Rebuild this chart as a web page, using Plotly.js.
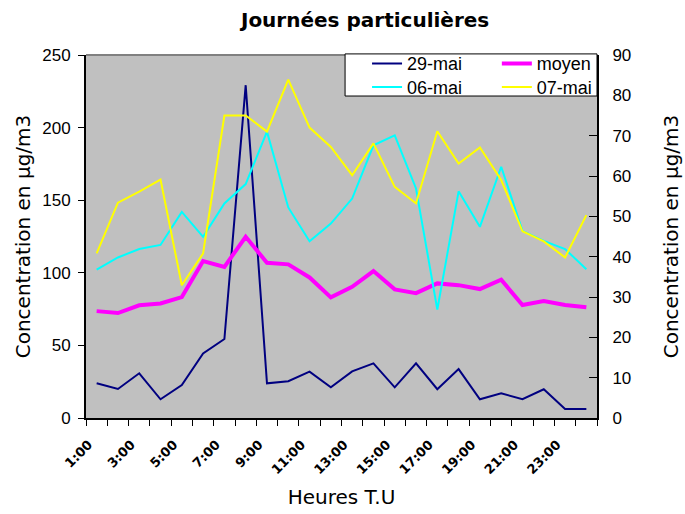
<!DOCTYPE html>
<html>
<head>
<meta charset="utf-8">
<script src="https://cdn.plot.ly/plotly-3.0.1.min.js"></script>
<style>html,body{margin:0;padding:0;background:#fff;}#chart{width:685px;height:514px;}</style>
</head>
<body>
<div id="chart"></div>
<script>
// Categories: hours (T.U)
var hours = ["1:00","2:00","3:00","4:00","5:00","6:00","7:00","8:00","9:00","10:00","11:00","12:00",
             "13:00","14:00","15:00","16:00","17:00","18:00","19:00","20:00","21:00","22:00","23:00","24:00"];
// Series on the left axis (µg/m3, 0-250)
var mai29 = [23.9,20.0,30.8,12.9,22.7,44.5,54.4,229.2,23.9,25.3,31.9,21.1,32.1,37.6,21.1,37.6,19.8,33.7,12.9,17.0,12.9,19.8,6.2,6.2];
var moyen = [73.6,72.3,77.6,78.9,83.3,108.1,104.1,124.8,106.9,105.8,96.8,83.1,90.4,101.2,88.6,86.0,92.7,91.5,88.8,95.2,77.8,80.5,77.8,76.2];
// Series on the right axis (µg/m3, 0-90)
var mai06 = [36.8,39.8,41.9,42.9,51.1,44.9,53.2,58.0,71.0,52.2,43.8,48.2,54.4,67.6,70.1,56.9,26.9,56.2,47.4,62.3,46.4,43.9,41.9,36.9];
var mai07 = [40.8,53.4,56.1,59.1,32.9,40.8,75.0,75.0,71.0,83.9,72.0,67.2,60.2,68.1,57.3,53.2,71.1,63.1,67.1,59.0,46.3,43.8,39.8,50.3];
// Tick labels shown (every other hour)
var labelHours = ["1:00","3:00","5:00","7:00","9:00","11:00","13:00","15:00","17:00","19:00","21:00","23:00"];

var idx = hours.map(function(h, i){ return i; });
var labelIdx = labelHours.map(function(h){ return hours.indexOf(h); });

var traces = [
  {x: idx, y: mai29, name: "29-mai", type: "scatter", mode: "lines", yaxis: "y",
   line: {color: "#000080", width: 2}, legend: "legend"},
  {x: idx, y: moyen, name: "moyen", type: "scatter", mode: "lines", yaxis: "y",
   line: {color: "#FF00FF", width: 4}, legend: "legend2"},
  {x: idx, y: mai06, name: "06-mai", type: "scatter", mode: "lines", yaxis: "y2",
   line: {color: "#00FFFF", width: 2}, legend: "legend3"},
  {x: idx, y: mai07, name: "07-mai", type: "scatter", mode: "lines", yaxis: "y2",
   line: {color: "#FFFF00", width: 2}, legend: "legend4"}
];

var axisTitleFont = {family: "DejaVu Sans", size: 20, color: "#000"};
var tickFont = {family: "Liberation Sans", size: 17, color: "#000"};
var legendFont = {family: "Liberation Sans", size: 18, color: "#000"};

function leg(x, y) {
  return {x: x, xanchor: "left", y: y, yanchor: "middle", bgcolor: "rgba(0,0,0,0)", borderwidth: 0,
          font: legendFont, tracegroupgap: 0};
}

var layout = {
  width: 685, height: 514,
  margin: {l: 86, r: 88, t: 55, b: 96},
  paper_bgcolor: "#ffffff",
  plot_bgcolor: "#C0C0C0",
  title: {text: "Journées particulières", x: 0.533, xanchor: "center", y: 0.962, yanchor: "middle",
          font: {family: "DejaVu Sans", size: 20, weight: "bold", color: "#000"}},
  showlegend: true,
  xaxis: {
    range: [-0.5, 23.5], showgrid: false, zeroline: false,
    tickvals: labelIdx, ticktext: labelHours, ticks: "", tickangle: -45,
    tickfont: {family: "DejaVu Sans", size: 13, weight: "bold", color: "#000"},
    ticklabelstandoff: 12, ticklabelshift: -8,
    showline: true, linecolor: "#000", linewidth: 2,
    minor: {tick0: -0.5, dtick: 1, ticks: "outside", ticklen: 6, tickcolor: "#000", tickwidth: 1, showgrid: false},
    title: {text: "Heures T.U", font: axisTitleFont, standoff: 14}
  },
  yaxis: {
    range: [0, 250], dtick: 50, showgrid: false, zeroline: false,
    ticks: "outside", ticklen: 6, tickcolor: "#000", ticklabelstandoff: 4,
    tickfont: tickFont,
    showline: true, linecolor: "#000", linewidth: 2,
    title: {text: "Concentration en µg/m3", font: axisTitleFont, standoff: 6}
  },
  yaxis2: {
    range: [0, 90], dtick: 10, overlaying: "y", side: "right", showgrid: false, zeroline: false,
    ticks: "inside", ticklen: 8, tickcolor: "#000", ticklabelstandoff: 10,
    tickfont: tickFont,
    showline: true, linecolor: "#000", linewidth: 2,
    title: {text: "Concentration en µg/m3", font: axisTitleFont, standoff: 34}
  },
  legend: leg(0.55, 0.976),
  legend2: leg(0.804, 0.976),
  legend3: leg(0.55, 0.911),
  legend4: leg(0.804, 0.911),
  shapes: [
    {type: "line", xref: "paper", yref: "paper", x0: 0, x1: 1, y0: 1, y1: 1,
     line: {color: "#808080", width: 2}, layer: "above"},
    {type: "rect", xref: "paper", yref: "paper", x0: 0.507, x1: 1.0, y0: 0.887, y1: 1.003,
     fillcolor: "#ffffff", line: {color: "#000", width: 1}, layer: "above"}
  ]
};

Plotly.newPlot("chart", traces, layout, {displayModeBar: false, staticPlot: true});
</script>
</body>
</html>
